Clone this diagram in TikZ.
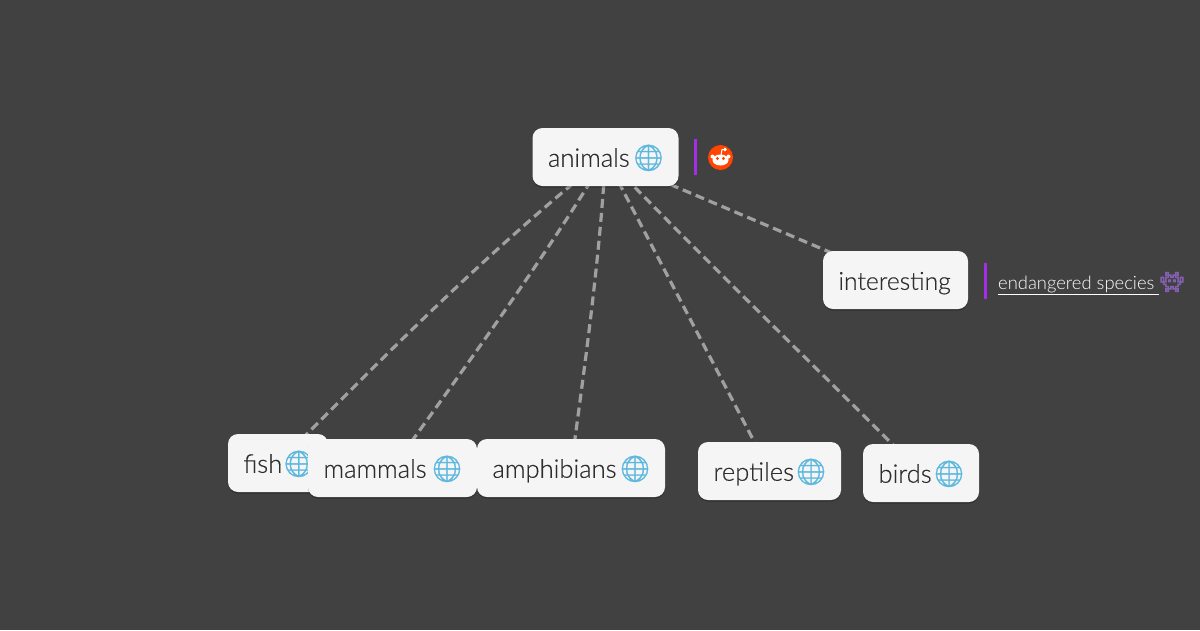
\documentclass[tikz,border=0pt]{standalone}
\usepackage{fontspec}
\setmainfont{Lato Light}[FakeBold=0.35]
\newfontfamily\linkfont{Lato Light}
\newfontfamily\emojifont[FakeBold=1.2]{Noto Emoji}
\newfontfamily\alienfont[FakeBold=4]{Noto Emoji}
\usetikzlibrary{shadows}
\definecolor{bgc}{HTML}{414141}
\definecolor{cardc}{HTML}{F5F5F5}
\definecolor{inkc}{HTML}{2E2E2E}
\definecolor{edgec}{HTML}{A0A0A0}
\definecolor{barc}{HTML}{A42DE8}
\definecolor{globec}{HTML}{5DB8DE}
\definecolor{redditc}{HTML}{FF4500}
\definecolor{alienc}{HTML}{8460B0}
\tikzset{
  x=1pt,y=-1pt,
  card/.style={fill=cardc,rounded corners=10pt,inner sep=0pt,text=inkc,font=\fontsize{25.6}{28}\selectfont,anchor=center,
    minimum width=#1,minimum height=58pt,text width=#1-31pt,align=left,
    text height=19.5pt,text depth=0pt,
    drop shadow={shadow xshift=0pt,shadow yshift=-1.5pt,fill=black,opacity=.25}},
  link/.style={draw=edgec,line width=3.2pt,dash pattern=on 9pt off 5pt},
  bar/.style={fill=barc,draw=none,minimum width=3pt,inner sep=0pt},
}
\newcommand{\gc}[1]{\hbox to \linewidth{#1\hfill{\emojifont\color{globec}\fontsize{26}{28}\selectfont 🌐}\kern-2pt}}
\begin{document}
\begin{tikzpicture}
\useasboundingbox[fill=bgc] (0,0) rectangle (1200,630);
\coordinate (a) at (605.5,157);
\coordinate (i) at (895.5,280);
\coordinate (f) at (278,463);
\coordinate (m) at (392.5,468);
\coordinate (p) at (571,468);
\coordinate (r) at (769.5,471);
\coordinate (b) at (921,473);
\draw[link] (a) -- (i);
\draw[link] (a) .. controls +(-125,100) and +(100,-100) .. (f);
\draw[link] (a) .. controls +(-60,100) and +(72,-100) .. (m);
\draw[link] (a) .. controls +(-6,104) and +(14,-104) .. (p);
\draw[link] (a) -- (r);
\draw[link] (a) .. controls +(100,104) and +(-103,-104) .. (b);
\node[card=146pt] (animals) at (a) {\gc{animals}};
\node[card=145pt] (interesting) at (i) {\fontsize{24.7}{28}\selectfont interes\kern0pt ting};
\node[card=100pt] (fish) at (f) {\gc{fish}};
\node[card=169pt] (mammals) at (m) {\gc{mammals}};
\node[card=188pt] (amphibians) at (p) {\gc{amphibians}};
\node[card=143pt] (reptiles) at (r) {\gc{reptiles}};
\node[card=116pt] (birds) at (b) {\gc{birds}};
\node[bar,minimum height=36pt] (bar1) at (695.5,157) {};
\node[bar,minimum height=36pt] (bar2) at (985.5,281) {};
\fill[redditc] (720.5,157.5) circle (12.5);
\fill[white] (720.5,160) ellipse (8 and 5.5);
\fill[white] (712.5,156.5) circle (2); \fill[white] (728.5,156.5) circle (2);
\fill[white] (725,149.5) circle (1.8);
\draw[white,line width=1pt] (721,155) -- (722,149.5) -- (725,149.5);
\fill[redditc] (717.5,158.5) circle (1.6); \fill[redditc] (723.5,158.5) circle (1.6);
\node[anchor=base west,inner sep=0pt,text=white,font=\linkfont\fontsize{18.4}{20}\selectfont] (link) at (998,289) {\underline{endangered species\ }};
\node[anchor=center,inner sep=0pt,text=alienc,font=\alienfont\fontsize{19}{24}\selectfont] (alien) at (1172,282) {👾};
\end{tikzpicture}
\end{document}
